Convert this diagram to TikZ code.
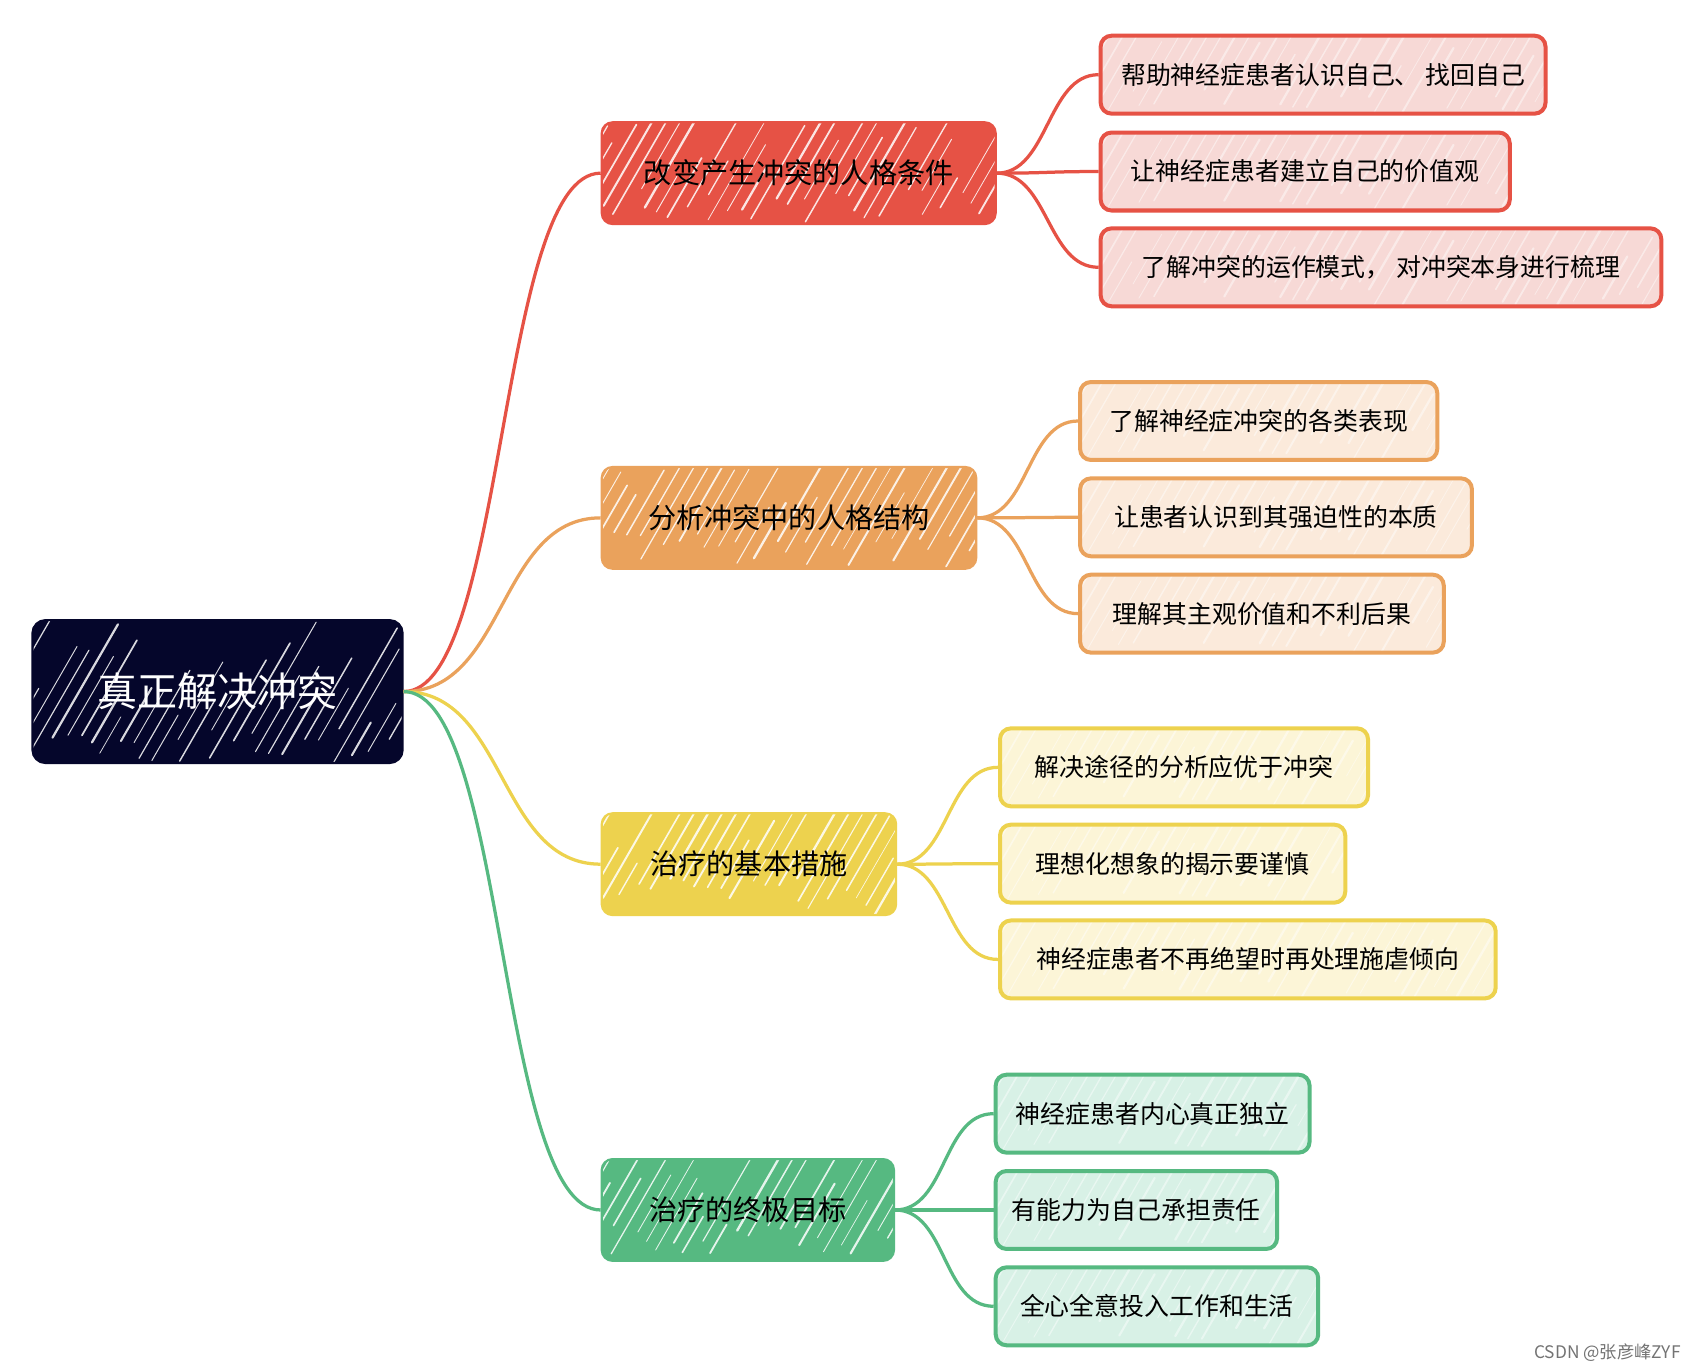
\documentclass[tikz,border=0pt]{standalone}
\usepackage{fontspec}
\setmainfont{Noto Sans CJK SC}
\usetikzlibrary{calc}
\definecolor{cRoot}{HTML}{05062B}
\definecolor{cRed}{HTML}{E65245}
\definecolor{cOrg}{HTML}{EAA25C}
\definecolor{cYel}{HTML}{EDD24E}
\definecolor{cGrn}{HTML}{56B981}
\definecolor{lRed}{HTML}{F7D9D6}
\definecolor{lOrg}{HTML}{FBEADB}
\definecolor{lYel}{HTML}{FCF5D7}
\definecolor{lGrn}{HTML}{D8F1E6}
\begin{document}
\begin{tikzpicture}[x=0.5pt,y=-0.5pt,
  hatch/.style 2 args={path picture={\pgfmathsetseed{#1}%
    \foreach \k in {0,...,46}{%
      \pgfmathsetmacro\ha{rnd*40}\pgfmathsetmacro\hl{30+rnd*110}\pgfmathsetmacro\hw{0.3+rnd*0.8}%
      \draw[white,line width=\hw pt,line cap=round,opacity=#2]
        ($(path picture bounding box.south west)+(\k*13-60,0)+(-60:\ha)$) -- ++(-60:\hl);}}},
  rootbox/.style={draw=cRoot,fill=cRoot,line width=1pt,rounded corners=6pt,inner sep=0pt,
    text=white,font=\fontsize{18.5}{18.5}\selectfont,hatch={11}{0.85}},
  lone/.style={draw=#1,fill=#1,line width=1pt,rounded corners=5pt,inner sep=0pt,
    minimum height=47pt,font=\fontsize{13}{13}\selectfont},
  ltwo/.style 2 args={draw=#1,fill=#2,line width=1.85pt,rounded corners=5pt,inner sep=0pt,
    minimum height=36pt,font=\fontsize{11.5}{11.5}\selectfont,hatch={7}{0.45}},
  conn/.style={line width=1.5pt,draw=#1}]
\useasboundingbox[fill=white] (0,0) rectangle (1568,1267);

% root
\node[rootbox,minimum width=171pt,minimum height=66pt] (root) at (201,639) {真正解决冲突};

% level 1
\node[lone=cRed,hatch={1}{0.85},minimum width=182pt] (A) at (738,160) {改变产生冲突的人格条件};
\node[lone=cOrg,hatch={2}{0.85},minimum width=173pt] (B) at (729,478.5) {分析冲突中的人格结构};
\node[lone=cYel,hatch={3}{0.85},minimum width=136pt] (C) at (692,798.5) {治疗的基本措施};
\node[lone=cGrn,hatch={4}{0.85},minimum width=135pt] (D) at (691,1118) {治疗的终极目标};

% level 2
\node[ltwo={cRed}{lRed},minimum width=205.5pt] (A1) at (1222.5,69) {帮助神经症患者认识自己、 找回自己};
\node[ltwo={cRed}{lRed},minimum width=189pt] (A2) at (1206,158.5) {让神经症患者建立自己的价值观};
\node[ltwo={cRed}{lRed},minimum width=259pt] (A3) at (1276,247) {了解冲突的运作模式， 对冲突本身进行梳理};
\node[ltwo={cOrg}{lOrg},minimum width=165pt] (B1) at (1163,389) {了解神经症冲突的各类表现};
\node[ltwo={cOrg}{lOrg},minimum width=181pt] (B2) at (1179,478) {让患者认识到其强迫性的本质};
\node[ltwo={cOrg}{lOrg},minimum width=168pt] (B3) at (1166,567) {理解其主观价值和不利后果};
\node[ltwo={cYel}{lYel},minimum width=170pt] (C1) at (1094,709) {解决途径的分析应优于冲突};
\node[ltwo={cYel}{lYel},minimum width=159.5pt] (C2) at (1083.5,798) {理想化想象的揭示要谨慎};
\node[ltwo={cYel}{lYel},minimum width=229pt] (C3) at (1153,886.5) {神经症患者不再绝望时再处理施虐倾向};
\node[ltwo={cGrn}{lGrn},minimum width=145pt] (D1) at (1065,1029) {神经症患者内心真正独立};
\node[ltwo={cGrn}{lGrn},minimum width=130pt] (D2) at (1050,1118) {有能力为自己承担责任};
\node[ltwo={cGrn}{lGrn},minimum width=149pt] (D3) at (1069,1207) {全心全意投入工作和生活};

% connectors root -> level 1
\draw[conn=cRed] (root.east) .. controls +(95,0) and +(-95,0) .. (A.west);
\draw[conn=cOrg] (root.east) .. controls +(95,0) and +(-95,0) .. (B.west);
\draw[conn=cYel] (root.east) .. controls +(95,0) and +(-95,0) .. (C.west);
\draw[conn=cGrn] (root.east) .. controls +(95,0) and +(-95,0) .. (D.west);

% connectors level 1 -> level 2
\foreach \p/\c in {A/cRed,B/cOrg,C/cYel,D/cGrn}{
  \foreach \q in {1,2,3}{
    \draw[conn=\c] (\p.east) .. controls +(48,0) and +(-48,0) .. (\p\q.west);
  }
}

\node[anchor=east,text=black!55,font=\fontsize{8}{8}\selectfont] (wm) at (1560,1250) {CSDN @张彦峰ZYF};
\end{tikzpicture}
\end{document}
